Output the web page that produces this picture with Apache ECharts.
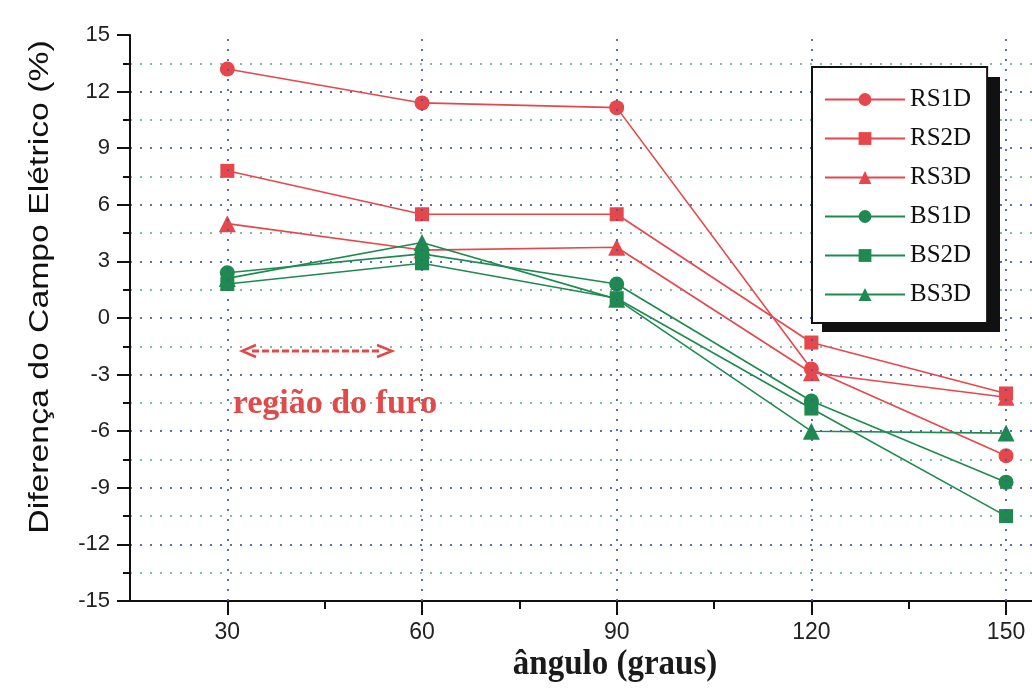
<!DOCTYPE html>
<html>
<head>
<meta charset="utf-8">
<script src="https://cdn.jsdelivr.net/npm/echarts@6/dist/echarts.min.js"></script>
<style>
html,body{margin:0;padding:0;background:#fff;}
#chart{width:1032px;height:691px;}
</style>
</head>
<body>
<div id="chart"></div>
<script>
// ---- data ----
const angles = [30, 60, 90, 120, 150];
const RS1D = [13.2, 11.4, 11.15, -2.7, -7.3];
const RS2D = [7.8, 5.5, 5.5, -1.3, -4.0];
const RS3D = [5.0, 3.6, 3.75, -2.9, -4.2];
const BS1D = [2.4, 3.4, 1.8, -4.4, -8.7];
const BS2D = [1.8, 2.9, 1.05, -4.8, -10.5];
const BS3D = [2.1, 4.0, 1.0, -6.0, -6.1];
const xMajorTicks = [30, 60, 90, 120, 150];
const xMinorTicks = [45, 75, 105, 135];
const seriesNames = ['RS1D', 'RS2D', 'RS3D', 'BS1D', 'BS2D', 'BS3D'];
const yTitle = 'Diferença do Campo Elétrico (%)';
const xTitle = 'ângulo (graus)';
const note = 'região do furo';

const RED = '#e6474c';
const GREEN = '#1f8a50';
const BLUE_DOT = '#4455aa';
const GREEN_DOT = '#6fb08f';

function pairs(vals) { return angles.map((a, i) => [a, vals[i]]); }

function mkSeries(name, vals, color, symbol, size) {
  return {
    name: name, type: 'line', data: pairs(vals),
    symbol: symbol, symbolSize: size,
    lineStyle: { color: color, width: 1.6 },
    itemStyle: { color: color },
    z: 3
  };
}

const chart = echarts.init(document.getElementById('chart'), null, { renderer: 'canvas' });

const option = {
  backgroundColor: '#ffffff',
  animation: false,
  grid: { left: 130, right: 0, top: 35, bottom: 90, containLabel: false },
  xAxis: [{
    type: 'value', min: 15, max: 154, interval: 15,
    axisLine: { show: true, onZero: false, lineStyle: { color: '#111', width: 2 } },
    axisTick: { show: true, length: 14, customValues: xMajorTicks, lineStyle: { color: '#111', width: 2 } },
    axisLabel: {
      customValues: xMajorTicks,
      formatter: function (v) { return v % 30 === 0 ? String(v) : ''; },
      color: '#222', fontSize: 23, fontFamily: '"Liberation Sans Narrow", "Liberation Sans", Arial', margin: 20
    },
    splitLine: { show: false }
  }, {
    type: 'value', min: 15, max: 154, interval: 15, position: 'bottom', offset: 0,
    axisLine: { show: false, onZero: false },
    axisTick: { show: true, length: 8, customValues: xMinorTicks, lineStyle: { color: '#111', width: 2 } },
    axisLabel: { show: false },
    splitLine: { show: false }
  }],
  yAxis: {
    type: 'value', min: -15, max: 15, interval: 3,
    axisLine: { show: true, onZero: false, lineStyle: { color: '#111', width: 2 } },
    axisTick: { show: true, length: 13, lineStyle: { color: '#111', width: 2 } },
    minorTick: { show: true, splitNumber: 2, length: 7, lineStyle: { color: '#111', width: 2 } },
    axisLabel: { color: '#222', fontSize: 22, fontFamily: '"Liberation Sans", Arial', margin: 20 },
    splitLine: { show: true, showMinLine: false, showMaxLine: false,
      lineStyle: { color: BLUE_DOT, width: 2, type: [2, 8], opacity: 0.85 } },
    minorSplitLine: { show: true, lineStyle: { color: GREEN_DOT, width: 2, type: [2, 8], opacity: 0.85 } }
  },
  legend: {
    orient: 'vertical', left: 812, top: 67, z: 6,
    data: seriesNames,
    itemWidth: 80, itemHeight: 16, itemGap: 14,
    padding: [20, 16, 16, 12],
    backgroundColor: '#fff', borderColor: '#111', borderWidth: 2,
    textStyle: { fontFamily: '"Liberation Serif", "Times New Roman", serif', fontSize: 25, color: '#111', lineHeight: 24 }
  },
  series: [
    mkSeries('RS1D', RS1D, RED, 'circle', 15),
    mkSeries('RS2D', RS2D, RED, 'rect', 14),
    mkSeries('RS3D', RS3D, RED, 'triangle', 17),
    mkSeries('BS1D', BS1D, GREEN, 'circle', 15),
    mkSeries('BS2D', BS2D, GREEN, 'rect', 14),
    mkSeries('BS3D', BS3D, GREEN, 'triangle', 17),
    {
      name: 'grid-v', type: 'line', data: [], silent: true, z: 1,
      markLine: {
        silent: true, symbol: 'none', label: { show: false },
        lineStyle: { color: BLUE_DOT, width: 2, type: [2, 8], opacity: 0.85 },
        data: xMajorTicks.map(v => ({ xAxis: v }))
      }
    }
  ],
  graphic: [
    {
      type: 'rect', z: 4,
      shape: { x: 822, y: 77, width: 178, height: 255 },
      style: { fill: '#111' }
    },
    {
      type: 'text', x: 41, y: 287, rotation: Math.PI / 2, scaleX: 1.25, z: 10,
      style: { text: yTitle, font: '27px "Liberation Sans", Arial, sans-serif', fill: '#111',
        textAlign: 'center', textVerticalAlign: 'middle' }
    },
    {
      type: 'text', x: 615, y: 665, z: 10, scaleY: 1.1,
      style: { text: xTitle, font: 'bold 33px "Liberation Serif", "Times New Roman", serif', fill: '#1a1a1a',
        textAlign: 'center', textVerticalAlign: 'middle' }
    },
    {
      type: 'text', x: 335, y: 404, z: 10,
      style: { text: note, font: 'bold 34px "Liberation Serif", "Times New Roman", serif', fill: '#e04a4a',
        textAlign: 'center', textVerticalAlign: 'middle' }
    },
    {
      type: 'line', z: 10,
      shape: { x1: 252, y1: 351, x2: 381, y2: 351 },
      style: { stroke: '#e04a4a', lineWidth: 3, lineDash: [7, 3] }
    },
    {
      type: 'polyline', z: 10,
      shape: { points: [[256, 345], [242, 351], [256, 357]] },
      style: { stroke: '#e04a4a', lineWidth: 2.5, fill: null }
    },
    {
      type: 'polyline', z: 10,
      shape: { points: [[377, 345], [392, 351], [377, 357]] },
      style: { stroke: '#e04a4a', lineWidth: 2.5, fill: null }
    }
  ]
};

chart.setOption(option);
</script>
</body>
</html>
